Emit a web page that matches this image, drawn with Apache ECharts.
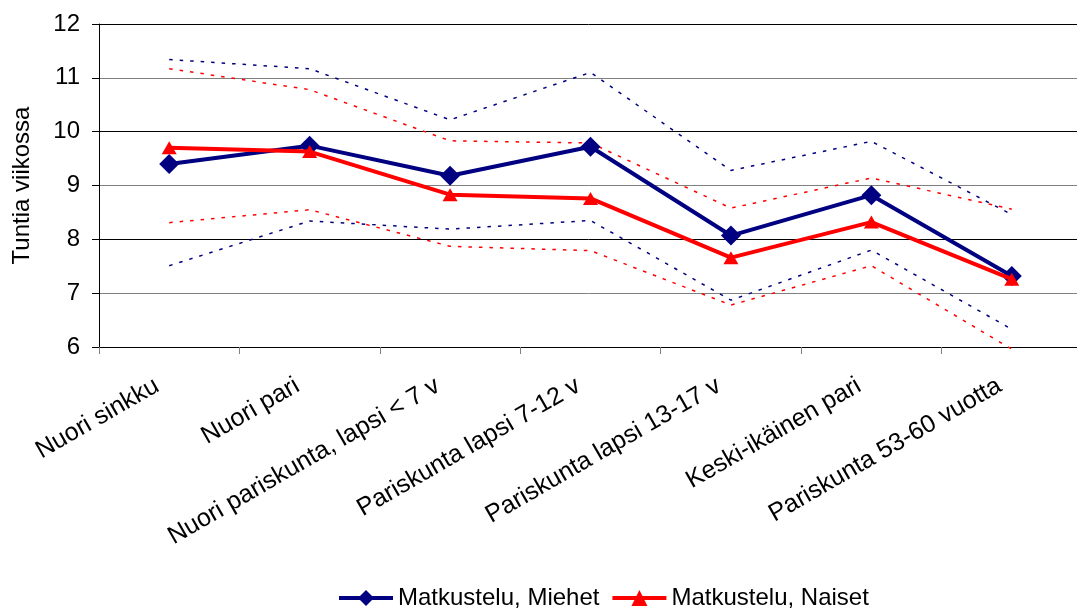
<!DOCTYPE html>
<html>
<head>
<meta charset="utf-8">
<script src="https://cdn.jsdelivr.net/npm/echarts@6/dist/echarts.min.js"></script>
<style>
html,body{margin:0;padding:0;background:#fff;}
#chart{width:1077px;height:610px;}
</style>
</head>
<body>
<div id="chart"></div>
<script>
const categories = ['Nuori sinkku', 'Nuori pari', 'Nuori pariskunta, lapsi < 7 v', 'Pariskunta lapsi 7-12 v', 'Pariskunta lapsi 13-17 v', 'Keski-ikäinen pari', 'Pariskunta 53-60 vuotta'];
const yTicks = [6, 7, 8, 9, 10, 11, 12];
const miehet = [9.40, 9.74, 9.18, 9.72, 8.07, 8.82, 7.32];
const naiset = [9.70, 9.63, 8.83, 8.76, 7.66, 8.32, 7.26];
const miehetYla = [11.34, 11.17, 10.22, 11.10, 9.28, 9.82, 8.46];
const miehetAla = [7.51, 8.34, 8.19, 8.35, 6.87, 7.80, 6.33];
const naisetYla = [11.17, 10.78, 9.83, 9.79, 8.58, 9.14, 8.56];
const naisetAla = [8.31, 8.55, 7.87, 7.79, 6.78, 7.51, 5.96];
const seriesNames = ['Matkustelu, Miehet', 'Matkustelu, Naiset'];

const FONT = "'Liberation Sans', Arial, sans-serif";
const NAVY = '#000080', RED = '#ff0000';

function dotted(name, data, color) {
  return {
    name: name, type: 'line', data: data, symbol: 'none', clip: false, silent: true,
    lineStyle: { color: color, width: 1.5, type: [3.5, 7] }, z: 1
  };
}

const chart = echarts.init(document.getElementById('chart'), null, { renderer: 'canvas' });
chart.setOption({
  animation: false,
  backgroundColor: '#fff',
  textStyle: { fontFamily: FONT, color: '#000' },
  grid: { left: 99, top: 24, width: 983, height: 323, containLabel: false, outerBoundsMode: 'none' },
  legend: {
    data: seriesNames, left: 332, top: 581, itemWidth: 54, itemHeight: 20, itemGap: 11,
    lineStyle: { width: 4 },
    textStyle: { fontFamily: FONT, fontSize: 24, color: '#000' }
  },
  xAxis: {
    type: 'category', data: categories, boundaryGap: true,
    axisLine: { lineStyle: { color: '#000', width: 1 } },
    axisTick: { show: true, length: 7, lineStyle: { color: '#808080' } },
    axisLabel: { rotate: 30, margin: 30, padding: [0, 14, 0, 0], fontSize: 25, color: '#000', fontFamily: FONT, interval: 0 },
    splitLine: { show: false }
  },
  yAxis: {
    type: 'value', min: yTicks[0], max: yTicks[yTicks.length - 1], interval: 1,
    name: 'Tuntia viikossa', nameLocation: 'middle', nameGap: 65, nameRotate: 90,
    nameTextStyle: { fontFamily: FONT, fontSize: 24, color: '#000' },
    axisLine: { show: true, lineStyle: { color: '#000' } },
    axisTick: { show: true, length: 7, lineStyle: { color: '#000' } },
    axisLabel: { margin: 19, fontSize: 24, color: '#000', fontFamily: FONT },
    splitLine: { show: true, lineStyle: { color: ['#000', '#808080'], width: 1 } }
  },
  series: [
    dotted('Miehet yläraja', miehetYla, NAVY),
    dotted('Miehet alaraja', miehetAla, NAVY),
    dotted('Naiset yläraja', naisetYla, RED),
    dotted('Naiset alaraja', naisetAla, RED),
    {
      name: seriesNames[0], type: 'line', data: miehet, symbol: 'diamond', symbolSize: 20,
      lineStyle: { color: NAVY, width: 4 }, itemStyle: { color: NAVY }, z: 3
    },
    {
      name: seriesNames[1], type: 'line', data: naiset, symbol: 'triangle', symbolSize: [15, 13],
      lineStyle: { color: RED, width: 4 }, itemStyle: { color: RED }, z: 4
    }
  ]
});
</script>
</body>
</html>
